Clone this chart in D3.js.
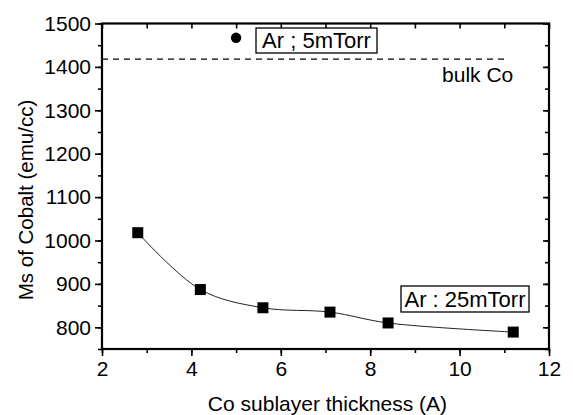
<!DOCTYPE html>
<html>
<head>
<meta charset="utf-8">
<script src="https://cdn.jsdelivr.net/npm/d3@7"></script>
<style>
  body { margin: 0; background: #fff; }
  text { font-family: "Liberation Sans", Arial, sans-serif; fill: #000; }
</style>
</head>
<body>
<div id="chart"></div>
<script>
// data
const thick25 = [2.8, 4.2, 5.6, 7.1, 8.4, 11.2];
const ms25 = [1018, 887, 845, 835, 810, 789];
const thick5 = [5.0];
const ms5 = [1467];
const bulkCo = 1418;
const bulkEnd = 11.1;
const xTicks = [2, 4, 6, 8, 10, 12];
const yTicks = [800, 900, 1000, 1100, 1200, 1300, 1400, 1500];

const W = 573, H = 415;
const m = {top: 23.5, right: 24, bottom: 66, left: 102};
const w = W - m.left - m.right, h = H - m.top - m.bottom;

const svg = d3.select("#chart").append("svg")
    .attr("width", W).attr("height", H);
const g = svg.append("g").attr("transform", `translate(${m.left},${m.top})`);

const x = d3.scaleLinear().domain([2, 12]).range([0, w]);
const y = d3.scaleLinear().domain([750, 1500]).range([h, 0]);

const xMinor = d3.range(2, 12.01, 1);
const yMinor = d3.range(750, 1500.01, 50);

// axes: bottom/left ticks out, top/right ticks in (mirror)
function styleAxis(sel) {
    sel.select(".domain").remove();
    sel.selectAll("line").attr("stroke", "#000").attr("stroke-width", 1.6);
    sel.selectAll("text").style("font-size", "21px");
}
g.append("g").attr("transform", `translate(0,${h})`)
    .call(d3.axisBottom(x).tickValues(xMinor).tickSize(4).tickFormat(""))
    .call(styleAxis);
g.append("g").attr("transform", `translate(0,${h})`)
    .call(d3.axisBottom(x).tickValues(xTicks).tickSize(7).tickPadding(5).tickFormat(d3.format("d")))
    .call(styleAxis);
g.append("g")
    .call(d3.axisLeft(y).tickValues(yMinor).tickSize(4).tickFormat(""))
    .call(styleAxis);
g.append("g")
    .call(d3.axisLeft(y).tickValues(yTicks).tickSize(7).tickPadding(4).tickFormat(d3.format("d")))
    .call(styleAxis);
g.append("g")
    .call(d3.axisTop(x).tickValues(xMinor).tickSize(-5).tickFormat(""))
    .call(styleAxis);
g.append("g").attr("transform", `translate(${w},0)`)
    .call(d3.axisRight(y).tickValues(yMinor).tickSize(-4).tickFormat(""))
    .call(styleAxis);
g.append("g").attr("transform", `translate(${w},0)`)
    .call(d3.axisRight(y).tickValues(yTicks).tickSize(-6).tickFormat(""))
    .call(styleAxis);

// frame
g.append("rect").attr("width", w).attr("height", h)
    .attr("fill", "none").attr("stroke", "#000").attr("stroke-width", 2.2);

// bulk Co reference
g.append("line")
    .attr("x1", x(2)).attr("x2", x(bulkEnd))
    .attr("y1", y(bulkCo)).attr("y2", y(bulkCo))
    .attr("stroke", "#000").attr("stroke-width", 1.4).attr("stroke-dasharray", "6,5");
g.append("text").attr("x", x(11.2)).attr("y", y(bulkCo) + 23)
    .attr("text-anchor", "end").style("font-size", "21px").text("bulk Co");

// 25 mTorr series
const pts = thick25.map((d, i) => [d, ms25[i]]);
g.append("path").datum(pts)
    .attr("fill", "none").attr("stroke", "#222").attr("stroke-width", 1)
    .attr("d", d3.line().x(d => x(d[0])).y(d => y(d[1])).curve(d3.curveCatmullRom.alpha(0.5)));
g.selectAll(".sq").data(pts).join("rect")
    .attr("x", d => x(d[0]) - 5.5).attr("y", d => y(d[1]) - 5.5)
    .attr("width", 11).attr("height", 11).attr("fill", "#000");

// 5 mTorr point
g.selectAll(".ci").data(thick5).join("circle")
    .attr("cx", d => x(d)).attr("cy", (d, i) => y(ms5[i]))
    .attr("r", 5.2).attr("fill", "#000");

// boxed labels
function boxLabel(px, py, bw, bh, txt) {
    g.append("rect").attr("x", px).attr("y", py).attr("width", bw).attr("height", bh)
        .attr("fill", "#fff").attr("stroke", "#000").attr("stroke-width", 1.3);
    g.append("text").attr("x", px + bw / 2).attr("y", py + bh - 5)
        .attr("text-anchor", "middle").style("font-size", "22px").text(txt);
}
boxLabel(154, 4.5, 121, 25, "Ar ;  5mTorr");
boxLabel(299, 262.5, 128, 26, "Ar : 25mTorr");

// axis titles
svg.append("text").attr("x", m.left + w / 2 + 2).attr("y", 411)
    .attr("text-anchor", "middle").style("font-size", "21px")
    .text("Co sublayer thickness (A)");
svg.append("text").attr("transform", "translate(33,200) rotate(-90)")
    .attr("text-anchor", "middle").style("font-size", "20.5px")
    .text("Ms of Cobalt (emu/cc)");
</script>
</body>
</html>
